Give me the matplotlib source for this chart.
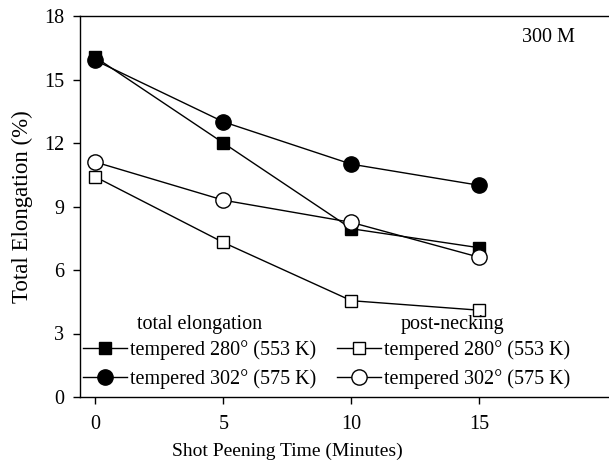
import numpy as np
import matplotlib.pyplot as plt
from matplotlib.lines import Line2D

plt.rcParams['font.family'] = ['Liberation Serif', 'DejaVu Serif']

# shot peening time in minutes
time = [0, 5, 10, 15]

# total elongation (%)
total_280 = [16.05, 12.0, 7.95, 7.05]
total_302 = [15.9, 13.0, 11.0, 10.0]
# post-necking elongation (%)
post_280 = [10.4, 7.3, 4.55, 4.1]
post_302 = [11.1, 9.3, 8.25, 6.6]

yticks = [0, 3, 6, 9, 12, 15, 18]
xticks = [0, 5, 10, 15]

fig = plt.figure(figsize=(6.09, 4.72), dpi=100)
ax = fig.add_axes([80/609, 1 - 397/472, 1 - 80/609 + 0.01, (397 - 16)/472])

lw = 1.0
ax.plot(time, total_280, '-s', color='black', mfc='black', ms=8.5, lw=lw, zorder=3)
ax.plot(time, total_302, '-o', color='black', mfc='black', ms=11, lw=lw, zorder=3)
ax.plot(time, post_280, '-s', color='black', mfc='white', ms=8.5, lw=lw, zorder=3)
ax.plot(time, post_302, '-o', color='black', mfc='white', ms=11, lw=lw, zorder=3)

ax.set_xlim(-0.6, 20.3)
ax.set_ylim(0, 18)
ax.set_xticks(xticks)
ax.set_yticks(yticks)
ax.tick_params(labelsize=14.5, length=5, width=1, direction='out')
ax.tick_params(axis='x', pad=8)
ax.tick_params(axis='y', pad=6.5)
ax.spines['right'].set_visible(False)
for s in ['left', 'bottom', 'top']:
    ax.spines[s].set_linewidth(1.0)

ax.set_xlabel('Shot Peening Time (Minutes)', fontsize=14)
ax.xaxis.set_label_coords((287 - 80) / 535, -46 / 381)
ax.set_ylabel('Total Elongation (%)', fontsize=16.5, labelpad=8)

ax.text(575/609, 1 - 38/472, '300 M', transform=fig.transFigure, fontsize=14.5,
        ha='right', va='center')

# legend group headings
ax.text(200/609, 1 - 324/472, 'total elongation', transform=fig.transFigure,
        fontsize=14.5, ha='center', va='center')
ax.text(452/609, 1 - 324/472, 'post-necking', transform=fig.transFigure,
        fontsize=14.5, ha='center', va='center')

h_t280 = Line2D([], [], color='black', marker='s', mfc='black', ms=8.5, lw=lw)
h_t302 = Line2D([], [], color='black', marker='o', mfc='black', ms=11, lw=lw)
h_p280 = Line2D([], [], color='black', marker='s', mfc='white', ms=8.5, lw=lw)
h_p302 = Line2D([], [], color='black', marker='o', mfc='white', ms=11, lw=lw)

leg_kw = dict(frameon=False, fontsize=14.5, handlelength=2.2,
              handletextpad=0.15, labelspacing=0.45, borderpad=0, loc='center left')
labels = ['tempered 280° (553 K)', 'tempered 302° (575 K)']
leg1 = ax.legend([h_t280, h_t302], labels,
                 bbox_to_anchor=(73/609, 1 - 364.5/472), bbox_transform=fig.transFigure, **leg_kw)
ax.add_artist(leg1)
leg2 = ax.legend([h_p280, h_p302], labels,
                 bbox_to_anchor=(327/609, 1 - 364.5/472), bbox_transform=fig.transFigure, **leg_kw)

fig.savefig('out.png', dpi=100)
